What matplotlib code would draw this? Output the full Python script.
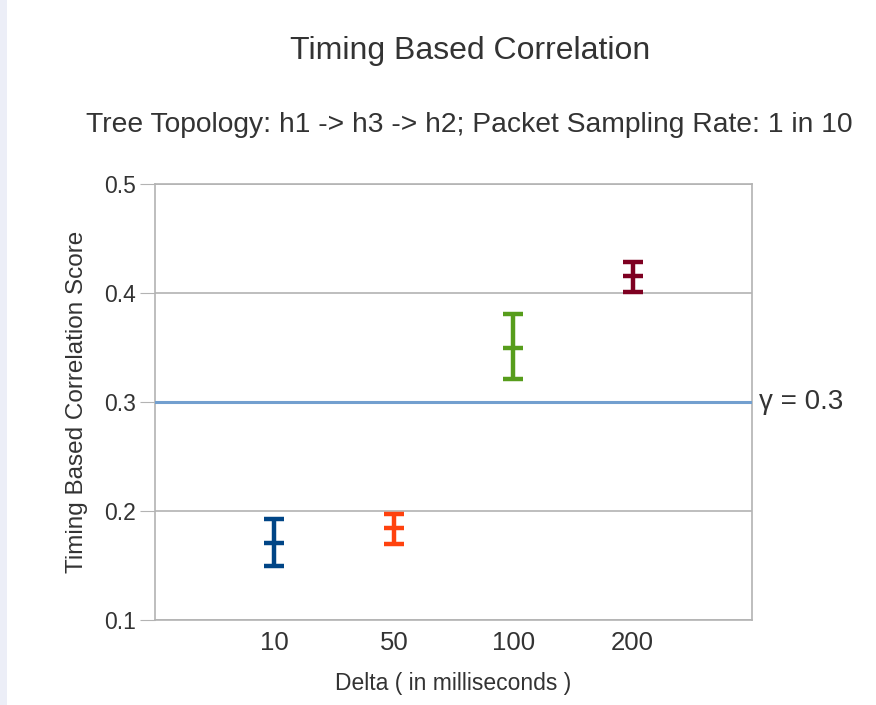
import matplotlib.pyplot as plt
import matplotlib.patches as mpatches

plt.rcParams['font.family'] = ['Liberation Sans', 'DejaVu Sans']

# data
deltas = ['10', '50', '100', '200']
score_mid = [0.171, 0.184, 0.350, 0.416]
score_low = [0.150, 0.170, 0.321, 0.401]
score_high = [0.193, 0.197, 0.381, 0.428]
colors = ['#004586', '#ff420e', '#579d1c', '#7e0021']
threshold = 0.3
yticks = [0.1, 0.2, 0.3, 0.4, 0.5]

fig = plt.figure(figsize=(8.76, 7.05), dpi=100)
fig.patch.set_facecolor('white')
# pale strip along the left edge of the screenshot
fig.patches.append(mpatches.Rectangle((0, 0), 7 / 876, 1, transform=fig.transFigure,
                                      facecolor='#eceef7', edgecolor='none'))

ax = fig.add_axes([155 / 876, 1 - 620 / 705, 597 / 876, 436 / 705])

xs = list(range(1, len(deltas) + 1))
for x, m, lo, hi, c in zip(xs, score_mid, score_low, score_high, colors):
    ax.errorbar([x], [m], yerr=[[m - lo], [hi - m]], fmt='_', color=c,
                markersize=15, markeredgewidth=3.2, elinewidth=3.2,
                capsize=7.5, capthick=3.2, zorder=4)

ax.axhline(threshold, color='#729fcf', lw=2.2, zorder=3)
ax.text(1.012, threshold, 'γ = 0.3', transform=ax.get_yaxis_transform(),
        va='center', ha='left', fontsize=20, color='#333333')

ax.set_xlim(0, len(deltas) + 1)
ax.set_ylim(0.1, 0.5)
ax.set_xticks(xs)
ax.set_xticklabels(deltas, fontsize=18.5, color='#333333')
ax.set_yticks(yticks)
ax.set_yticklabels(['%.1f' % v for v in yticks], fontsize=16.5, color='#333333')
ax.tick_params(axis='x', length=0, pad=8)
ax.tick_params(axis='y', length=11, color='#b3b3b3', pad=3)
ax.grid(axis='y', color='#b3b3b3', lw=1.2, zorder=1)
for s in ax.spines.values():
    s.set_color('#b3b3b3')
    s.set_linewidth(1.2)

ax.set_ylabel('Timing Based Correlation Score', fontsize=17.5, color='#333333', labelpad=11)
ax.set_xlabel('Delta ( in milliseconds )', fontsize=16.5, color='#333333', labelpad=12)

fig.text(470 / 876, 1 - 51 / 705, 'Timing Based Correlation', ha='center', va='center',
         fontsize=23, color='#333333')
fig.text(469 / 876, 1 - 125 / 705, 'Tree Topology: h1 -> h3 -> h2; Packet Sampling Rate: 1 in 10',
         ha='center', va='center', fontsize=20.3, color='#333333')

fig.savefig('out.png', dpi=100)
